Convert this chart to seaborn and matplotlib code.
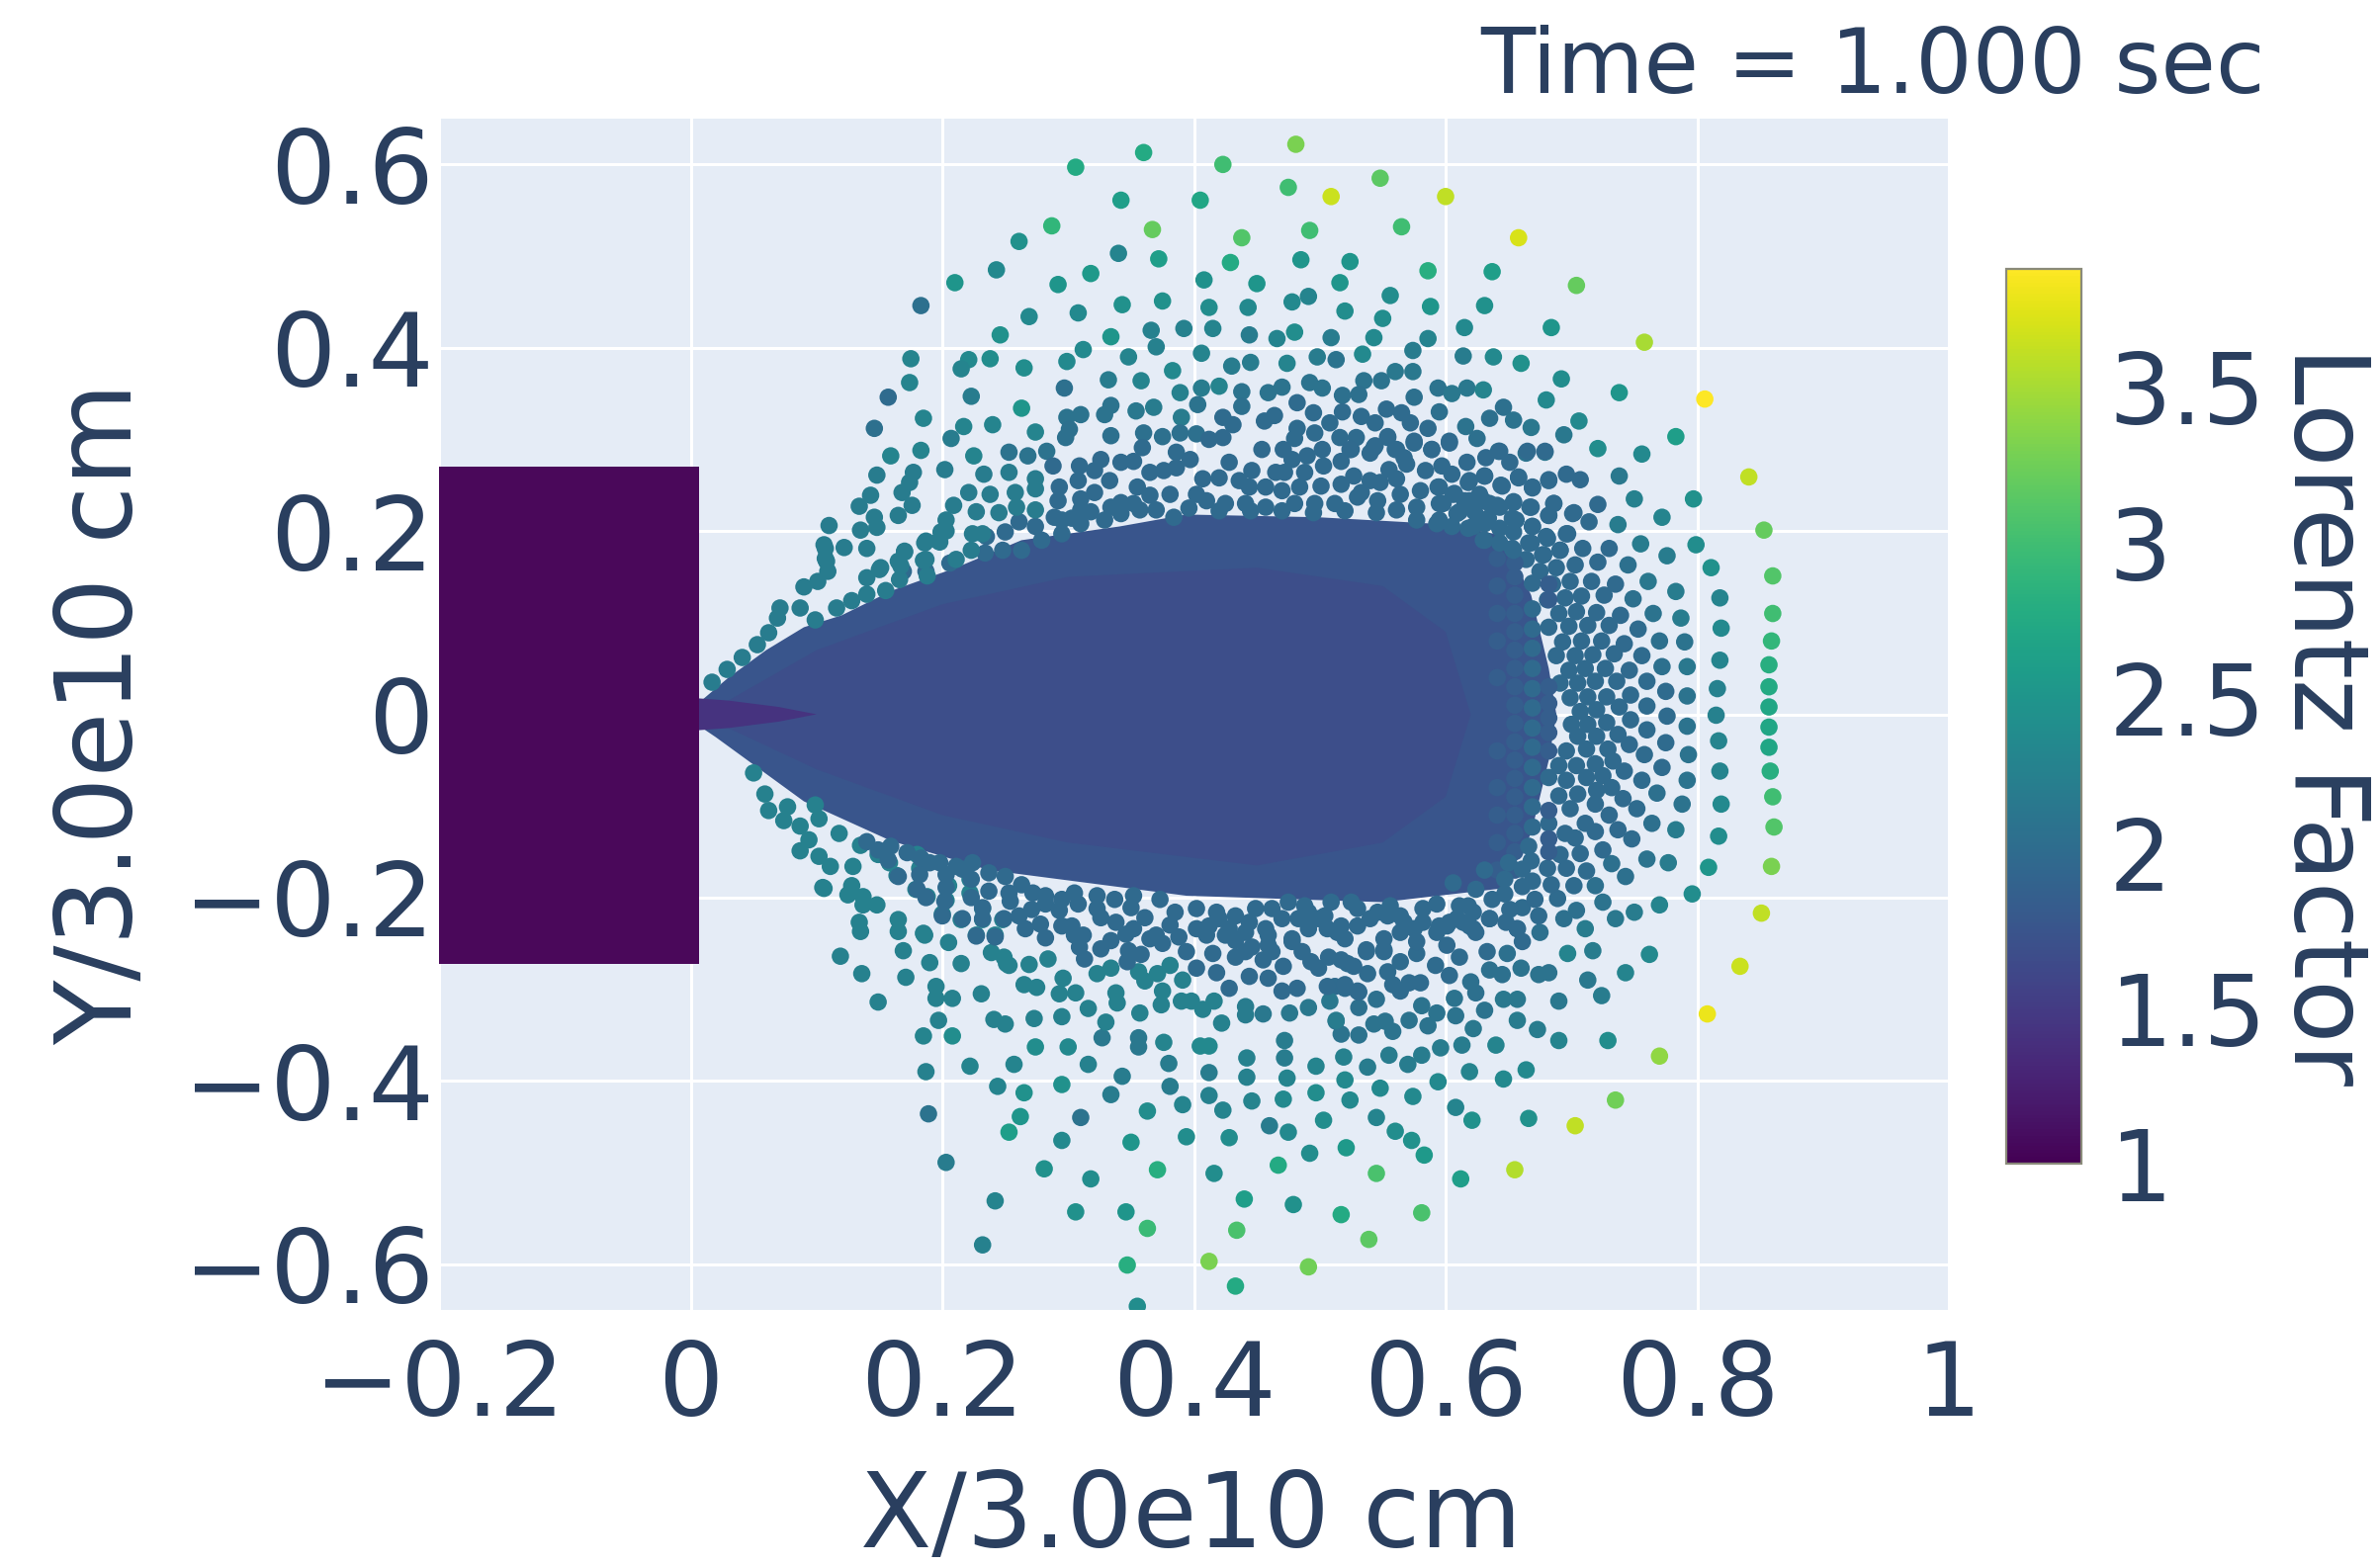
import numpy as np
import pandas as pd
import seaborn as sns
import matplotlib
matplotlib.use("Agg")
import matplotlib.pyplot as plt
from matplotlib.patches import Polygon, Rectangle
from matplotlib.cm import ScalarMappable
from matplotlib.colors import Normalize

# ---------- values (x, y, Lorentz factor) ----------
top_outer = [(.306,.597,2.75),(.360,.613,2.75),(.423,.600,3.0),(.481,.622,3.3),(.475,.575,3.0),(.509,.565,3.65),
(.342,.561,2.6),(.405,.561,2.7),(.287,.533,2.9),(.367,.529,3.2),(.438,.520,3.1),(.492,.528,3.0),(.261,.516,2.45),
(.340,.503,2.3),(.372,.497,2.6),(.429,.493,2.75),(.485,.496,2.5),(.243,.485,2.35),(.318,.481,2.55),(.210,.471,2.5),
(.292,.469,2.5),(.408,.474,2.45),(.450,.470,2.5),(.183,.446,2.05),(.343,.447,2.45),(.375,.451,2.45),(.412,.444,2.4),
(.443,.444,2.35),(.478,.450,2.35),(.491,.456,2.3),(.269,.434,2.35),(.308,.438,2.35),(.246,.414,2.45),(.334,.412,2.5),
(.366,.419,2.25),(.370,.401,2.25),(.392,.421,2.25),(.415,.421,2.3),(.444,.414,2.2),(.466,.410,2.3),(.480,.417,2.4),
(.509,.411,2.2),(.175,.388,2.3),(.221,.387,2.35),(.215,.377,2.3),(.238,.388,2.4),(.265,.378,2.4),(.299,.385,2.35),
(.312,.398,2.35),(.348,.390,2.3),(.406,.394,2.3),(.383,.375,2.35),(.430,.380,2.2),(.445,.384,2.2),(.474,.383,2.3),
(.498,.390,2.2),(.174,.362,2.3),(.157,.346,2.0),(.223,.347,2.2),(.297,.356,2.05),(.332,.365,2.2),(.358,.364,2.3),
(.389,.351,2.25),(.406,.356,2.2),(.420,.358,2.3),(.438,.352,2.1),(.459,.351,2.1),(.470,.357,2.1),(.492,.362,2.1),
(.502,.356,2.1),(.263,.334,2.5),(.185,.323,2.3),(.146,.312,2.05),(.217,.314,2.3),(.207,.301,2.2),(.240,.316,2.3),
(.274,.308,2.3),(.299,.324,2.1),(.310,.327,2.1),(.334,.337,2.1),(.329,.327,2.1),(.354,.331,2.15),(.368,.335,2.2),
(.403,.338,2.1),(.390,.324,2.2),(.438,.336,2.05),(.423,.324,2.0),(.431,.316,2.0),(.456,.320,2.0),(.464,.326,2.0),
(.482,.340,2.0),(.495,.329,2.0),(.508,.318,2.0),(.301,.311,2.05),(.298,.302,2.05),(.334,.304,2.05),(.360,.307,2.05),
(.375,.303,2.05),(.389,.307,2.05),(.402,.306,2.05),(.482,.312,2.0),(.480,.301,2.0),(.496,.307,2.0),(.159,.282,2.3),
(.183,.288,2.3),(.225,.282,2.3),(.253,.286,2.1),(.268,.282,2.1),(.283,.287,2.1),(.359,.291,2.0),(.386,.286,2.0)]

top_right = [(.548,.585,3.15),(.600,.565,3.6),(.565,.532,3.0),(.658,.520,3.7),(.524,.494,2.5),(.586,.484,2.8),
(.637,.483,2.6),(.704,.468,3.2),(.516,.471,2.5),(.556,.457,2.4),(.588,.445,2.5),(.631,.446,2.45),(.520,.440,2.4),
(.550,.432,2.4),(.615,.422,2.35),(.684,.422,2.5),(.543,.411,2.35),(.586,.410,2.3),(.758,.406,3.5),(.534,.393,2.35),
(.574,.397,2.2),(.614,.391,2.2),(.638,.390,2.35),(.660,.383,2.45),(.513,.387,2.1),(.560,.374,2.15),(.574,.374,2.15),
(.692,.366,2.4),(.535,.364,2.1),(.549,.364,2.1),(.594,.356,2.1),(.605,.350,2.15),(.617,.356,2.15),(.630,.354,2.3),
(.738,.351,2.5),(.806,.344,3.88),(.680,.343,2.35),(.518,.348,2.05),(.531,.349,2.05),(.575,.346,2.05),(.518,.330,2.0),
(.533,.325,2.0),(.553,.333,2.0),(.565,.329,2.0),(.544,.318,2.0),(.572,.318,2.0),(.595,.330,2.05),(.646,.335,2.05),
(.635,.323,2.05),(.654,.321,2.1),(.586,.312,2.0),(.616,.314,2.1),(.668,.313,2.15),(.706,.320,2.35),(.694,.305,2.15),
(.516,.302,2.0),(.529,.302,2.0),(.554,.302,2.0),(.575,.296,2.0),(.625,.301,2.05),(.603,.298,2.0),(.783,.303,2.6),
(.721,.290,2.4),(.756,.284,2.35),(.664,.285,2.1),(.679,.286,2.15),(.642,.287,2.05),(.589,.289,2.0),(.560,.289,2.0),
(.525,.289,2.0),(.543,.291,2.0)]

right_shell = [(.841,.259,3.6),(.853,.201,3.2),(.860,.151,3.1),(.860,.110,3.0),(.859,.080,2.9),(.857,.054,2.8),
(.857,.030,2.75),(.857,.008,2.7),(.857,-.014,2.7),(.857,-.036,2.7),(.858,-.062,2.8),(.860,-.090,3.0),(.861,-.123,3.1),
(.859,-.166,3.3),(.851,-.217,3.6),(.797,.235,2.45),(.799,.185,2.4),(.811,.160,2.45),(.818,.127,2.3),(.819,.094,2.35),
(.818,.059,2.3),(.816,.028,2.25),(.815,-.001,2.25),(.817,-.029,2.3),(.818,-.062,2.3),(.819,-.098,2.35),(.817,-.133,2.4),
(.809,-.167,2.5),(.796,-.196,2.4)]

right_third = [(.738,.260,2.15),(.750,.235,2.25),(.772,.215,2.3),(.737,.207,2.2),(.755,.186,2.2),(.776,.173,2.2),
(.745,.163,2.05),(.761,.145,2.15),(.783,.134,2.2),(.749,.126,2.05),(.765,.110,2.1),(.787,.105,2.2),(.753,.093,2.0),
(.770,.080,2.05),(.790,.079,2.1),(.756,.064,2.0),(.772,.052,2.05),(.792,.052,2.15),(.760,.036,2.0),(.775,.025,2.0),
(.792,.020,2.1),(.760,.009,2.0),(.776,-.002,2.0),(.792,-.013,2.1),(.760,-.017,2.0),(.775,-.031,2.0),(.793,-.044,2.1),
(.758,-.044,2.0),(.772,-.058,2.0),(.792,-.072,2.1),(.756,-.072,2.0),(.768,-.086,2.05),(.788,-.098,2.1),(.752,-.103,2.0),
(.764,-.119,2.05),(.783,-.126,2.2),(.748,-.136,2.0),(.760,-.158,2.1),(.777,-.162,2.2),(.743,-.177,2.05),(.770,-.208,2.3),
(.750,-.216,2.2),(.735,-.223,2.15),(.725,-.205,2.1),(.719,-.187,2.05),(.732,-.163,2.05),(.712,-.171,2.0),(.702,-.187,2.0),
(.689,-.201,2.0),(.704,-.214,2.05),(.694,-.223,2.05),(.711,-.234,2.2),(.675,-.238,2.05),(.674,-.220,2.0),(.661,-.211,2.0)]

lattice_x = [.721,.702,.714,.686,.682,.696,.707,.682,.669,.658,.644,.631,.618,.651,.632,.643,.617,.665,.679,.696,.669,.654,
.668,.641,.630,.653,.681,.709,.730,.691,.668,.653,.664,.678,.703,.721,.688,.675,.716,.699,.735,.685,.708,.726,.695,.681,
.720,.739,.704,.690,.730,.713,.698,.682,.742,.724,.708,.693,.734,.717,.703,.688,.746,.727,.711,.698,.736,.719,.705,.691,
.747,.728,.713,.699,.738,.720,.707,.747,.728,.713,.700,.737,.720,.705,.746,.729,.712,.696,.742,.733,.719,.704,.690,.725,
.741,.732,.712,.696,.682,.720,.705,.690,.730,.719,.737,.711,.699,.719,.703,.725,.707,.691,.695,.682,.681,.696,.668,.684,
.669,.671,.651,.647,.669,.669,.669,.669,.669,.669,.669,.669,.669,.669,.669,.669,.669]
lattice_y = [.229,.220,.210,.230,.217,.262,.256,.256,.247,.259,.250,.260,.253,.275,.280,.287,.275,.287,.287,.197,.205,.232,
.226,.228,.233,.214,.192,.181,.181,.179,.187,.181,.169,.174,.163,.166,.160,.156,.145,.145,.142,.142,.129,.130,.127,.125,
.111,.108,.112,.110,.097,.097,.096,.095,.077,.080,.080,.079,.066,.065,.064,.064,.048,.050,.050,.048,.036,.036,.034,.034,
.021,.019,.019,.018,.008,.005,.003,-.006,-.009,-.011,-.011,-.022,-.024,-.024,-.033,-.038,-.038,-.040,-.062,-.051,-.054,-.056,-.056,-.067,
-.092,-.080,-.069,-.072,-.069,-.083,-.087,-.089,-.110,-.098,-.126,-.119,-.103,-.128,-.135,-.148,-.152,-.153,-.130,-.119,-.168,-.168,-.160,-.186,
-.182,-.202,-.213,-.196,.143,.115,.093,.072,.050,.028,.007,-.015,-.036,-.058,-.080,-.101,-.123]
lattice_lorentz = 1.98

core_edge_x = [.655,.655,.655,.655,.655,.655,.655,.655,.655,.655,.655,.655,.655,.655,.655,.655,.655,.655,
.641,.641,.641,.641,.641,.641,.641,.641,.641,.641,.682,.682,.682,.682,.682,.682,.682,.682,.682,.682]
core_edge_y = [.165,.15,.13,.11,.09,.07,.05,.03,.01,-.01,-.03,-.05,-.07,-.09,-.11,-.13,-.15,-.17,
.17,.14,.11,.08,.04,-.04,-.08,-.11,-.14,-.17,.142,.03,.012,-.004,-.02,-.04,-.105,-.15,-.136,.125]
core_edge_lorentz = 1.85

upper_band = [(.446,.266),(.465,.264),(.472,.264),(.488,.264),(.503,.271),(.527,.260),(.517,.276),(.555,.267),(.569,.273),
(.584,.266),(.540,.255),(.567,.280),(.402,.240),(.420,.258),(.407,.257),(.436,.255),(.457,.248),(.444,.248),(.470,.244),
(.484,.248),(.501,.249),(.517,.251),(.533,.242),(.548,.253),(.561,.257),(.580,.244),(.564,.240),(.595,.248),(.410,.233),
(.425,.230),(.441,.230),(.457,.226),(.480,.230),(.496,.230),(.512,.230),(.530,.237),(.546,.233),(.561,.223),(.577,.226),
(.288,.271),(.308,.255),(.321,.242),(.310,.235),(.333,.255),(.309,.271),(.321,.266),(.326,.278),(.342,.275),(.352,.276),
(.365,.264),(.376,.266),(.386,.269),(.355,.248),(.342,.231),(.334,.226),(.365,.239),(.381,.240),(.293,.248),(.292,.233),
(.274,.205),(.289,.215),(.303,.214),(.318,.221),(.250,.199),(.261,.210),(.397,.278),(.412,.300),(.423,.302),(.428,.275),
(.454,.289),(.471,.289),(.478,.278),(.490,.282),(.502,.289),(.524,.289),(.540,.285),(.544,.293),(.554,.303),(.561,.289),
(.575,.298),(.589,.289),(.603,.296),(.606,.240),(.615,.233),(.623,.221),(.631,.208),(.643,.226),(.627,.240),(.635,.230),
(.654,.231),(.667,.226),(.682,.217),(.686,.230),(.669,.205),(.656,.212),(.643,.203),(.631,.190),(.643,.187),(.654,.179),
(.666,.187),(.677,.174),(.691,.179),(.680,.194),(.697,.197),(.701,.219),(.619,.255),(.631,.260),(.645,.249),(.658,.258),
(.669,.248),(.682,.255),(.595,.230),(.609,.219),(.622,.205),(.577,.212),(.593,.208),(.597,.271),(.605,.262),(.594,.248),
(.607,.241),(.619,.233),(.598,.230),(.611,.221),(.634,.214),(.654,.199),(.630,.190),(.618,.203),(.605,.205),(.595,.212),
(.235,.194),(.263,.179),(.206,.165),(.234,.176),(.187,.156),(.169,.156),(.248,.179),(.279,.190),(.295,.197),(.310,.208),
(.329,.212),(.342,.219),(.357,.223),(.370,.223),(.384,.215),(.352,.230),(.295,.212),(.310,.223),(.396,.225),(.420,.222),
(.445,.222),(.470,.222),(.495,.220),(.520,.222),(.545,.220)]
upper_band_lorentz = 1.98

upper_arm = [(.110,.206),(.106,.185),(.122,.182),(.140,.181),(.108,.167),(.151,.160),(.170,.178),(.165,.167),(.186,.187),
(.187,.169),(.148,.261),(.143,.239),(.134,.227),(.146,.215),(.148,.204),(.135,.201),(.168,.242),(.176,.228),(.165,.217),
(.177,.264),(.174,.253),(.202,.267),(.209,.228),(.203,.212),(.199,.199),(.198,.188),(.221,.242),(.238,.240),(.227,.221),
(.245,.220),(.258,.242),(.259,.226),(.274,.223),(.233,.262),(.253,.264),(.274,.257),(.274,.246),(.232,.197),(.224,.197),
(.223,.179),(.211,.169),(.107,.181),(.107,.170),(.109,.156),(.101,.145),(.090,.139),(.087,.116),(.071,.116),(.069,.105),
(.062,.089),(.053,.076),(.041,.062),(.029,.049),(.017,.035),(.140,.149),(.150,.158),(.170,.177),(.167,.162),(.166,.147),
(.187,.189),(.185,.168),(.188,.151),(.203,.200),(.197,.189),(.099,.103),(.116,.116),(.128,.124),(.140,.131),(.155,.135)]
upper_arm_lorentz = 2.2

lower_arm = [(.050,-.064),(.059,-.087),(.062,-.105),(.077,-.101),(.074,-.116),(.087,-.122),(.102,-.114),(.099,-.099),(.094,-.137),
(.087,-.149),(.102,-.155),(.111,-.166),(.129,-.166),(.105,-.189),(.128,-.187),(.125,-.197),(.137,-.199),(.137,-.208),(.148,-.208),
(.134,-.227),(.135,-.237),(.165,-.224),(.165,-.237),(.119,-.264),(.136,-.283),(.169,-.258),(.171,-.287),(.118,-.130),(.135,-.143),
(.149,-.153),(.164,-.176),(.158,-.162),(.182,-.168),(.180,-.153),(.179,-.191),(.188,-.199),(.203,-.203),(.205,-.187),(.222,-.180),
(.222,-.195),(.200,-.218),(.215,-.224),(.232,-.212),(.232,-.224),(.185,-.239),(.205,-.249),(.227,-.241),(.242,-.241),(.248,-.224),
(.190,-.271),(.215,-.272),(.195,-.297),(.195,-.310),(.208,-.310),(.239,-.260),(.251,-.272),(.106,-.190),(.149,-.314),(.186,-.241),
(.231,-.305),(.197,-.334),(.241,-.333),(.250,-.338),(.273,-.332),(.295,-.330),(.330,-.336),(.357,-.326),(.316,-.321),(.293,-.305),
(.306,-.304),(.338,-.304),(.339,-.315),(.375,-.302),(.374,-.317),(.390,-.313),(.265,-.295),(.275,-.298),(.296,-.288),(.269,-.273),
(.284,-.267),(.253,-.274),(.249,-.265),(.323,-.283),(.334,-.277),(.356,-.281),(.361,-.291),(.371,-.283),(.381,-.274),(.391,-.290)]
lower_arm_lorentz = 2.25

lower_inner = [(.347,-.270),(.358,-.262),(.348,-.258),(.313,-.267),(.309,-.254),(.326,-.256),(.334,-.247),(.305,-.241),(.312,-.241),
(.346,-.240),(.352,-.234),(.365,-.245),(.375,-.250),(.388,-.243),(.227,-.242),(.242,-.243),(.282,-.244),(.278,-.229),(.266,-.234),
(.249,-.223),(.261,-.220),(.232,-.211),(.232,-.223),(.200,-.220),(.216,-.223),(.203,-.189),(.202,-.204),(.223,-.180),(.223,-.200),
(.180,-.191),(.187,-.200),(.182,-.175),(.165,-.177),(.157,-.159),(.149,-.148),(.140,-.139),(.237,-.193),(.253,-.195),(.254,-.204),
(.271,-.213),(.282,-.207),(.293,-.214),(.303,-.231),(.295,-.231),(.326,-.222),(.338,-.227),(.415,-.261),(.433,-.265),(.441,-.259),
(.446,-.254),(.455,-.268),(.462,-.259),(.402,-.277),(.499,-.277),(.493,-.270),(.486,-.259),(.478,-.248),(.507,-.265),(.410,-.241),
(.433,-.247),(.402,-.234),(.420,-.223),(.459,-.252),(.459,-.241),(.478,-.245),(.491,-.234),(.499,-.223),(.506,-.234),(.520,-.245),
(.530,-.231),(.540,-.223),(.554,-.220),(.564,-.220),(.564,-.238),(.575,-.234),(.582,-.227),(.593,-.238),(.603,-.227),(.614,-.227),
(.577,-.248),(.601,-.252),(.551,-.245),(.514,-.238),(.441,-.238),(.425,-.241),(.394,-.259),(.619,-.231),(.635,-.223),(.648,-.227),
(.657,-.234),(.661,-.248),(.624,-.238),(.418,-.282),(.471,-.275),(.444,-.286),(.459,-.288),(.428,-.299),(.470,-.302),(.482,-.299),
(.517,-.268),(.527,-.275),(.537,-.257),(.551,-.257),(.506,-.297),(.520,-.295),(.530,-.302),(.412,-.231),(.428,-.234),(.444,-.227),
(.457,-.234),(.470,-.223),(.483,-.223),(.491,-.216),(.504,-.220),(.517,-.231),(.530,-.212),(.546,-.216),(.556,-.209),(.567,-.227),
(.582,-.212),(.595,-.231),(.609,-.223),(.622,-.216),(.402,-.212),(.418,-.216),(.433,-.220),(.449,-.212),(.462,-.212),(.475,-.205),
(.488,-.209),(.509,-.205),(.525,-.205),(.237,-.173),(.250,-.177),(.263,-.186),(.272,-.195),(.282,-.198),(.295,-.202),(.308,-.207),
(.323,-.212),(.337,-.202),(.350,-.211),(.361,-.222),(.370,-.241),(.381,-.230),(.385,-.216),(.305,-.195),(.323,-.198),(.352,-.198),
(.373,-.202),(.198,-.162),(.211,-.166),(.224,-.162),(.183,-.157),(.172,-.151),(.159,-.144),(.216,-.169),(.203,-.175),(.190,-.162),
(.631,-.170),(.647,-.180),(.661,-.188),(.624,-.191),(.606,-.184),(.618,-.209),(.635,-.223),(.657,-.234),(.622,-.234),(.601,-.231),
(.611,-.209),(.637,-.202),(.593,-.207),(.661,-.169),(.650,-.162),(.666,-.144)]
lower_inner_lorentz = 1.98

bottom_right = [(.834,-.275,3.65),(.808,-.327,3.8),(.770,-.373,3.4),(.735,-.421,3.25),(.703,-.449,3.6),(.655,-.497,3.55),
(.581,-.544,3.05),(.539,-.573,3.15),(.545,-.501,3.05),(.612,-.507,2.6),(.517,-.546,2.75),(.521,-.473,2.55),(.583,-.481,2.55),
(.573,-.465,2.45),(.560,-.455,2.4),(.545,-.440,2.3),(.621,-.443,2.45),(.608,-.429,2.3),(.666,-.441,2.45),(.524,-.421,2.35),
(.574,-.417,2.35),(.548,-.408,2.35),(.520,-.399,2.35),(.594,-.401,2.35),(.646,-.398,2.35),(.664,-.388,2.35),(.619,-.390,2.3),
(.640,-.361,2.3),(.729,-.356,2.4),(.690,-.356,2.3),(.673,-.344,2.2),(.657,-.334,2.2),(.613,-.361,2.2),(.596,-.364,2.2),
(.581,-.372,2.2),(.570,-.382,2.2),(.555,-.372,2.2),(.538,-.385,2.2),(.519,-.374,2.25),(.622,-.343,2.15),(.586,-.340,2.1),
(.571,-.334,2.1),(.558,-.346,2.1),(.552,-.335,2.1),(.543,-.338,2.1),(.531,-.350,2.1),(.517,-.349,2.1),(.513,-.335,2.1),
(.608,-.329,2.1),(.593,-.326,2.1),(.581,-.318,2.1),(.631,-.323,2.1),(.607,-.310,2.1),(.624,-.304,2.05),(.620,-.292,2.05),
(.646,-.311,2.15),(.657,-.311,2.15),(.690,-.313,2.15),(.545,-.311,2.05),(.531,-.320,2.05),(.724,-.307,2.2),(.713,-.290,2.15),
(.743,-.282,2.3),(.762,-.262,2.35),(.697,-.261,2.3),(.717,-.258,2.2),(.682,-.282,2.1),(.674,-.284,2.1),(.660,-.277,2.1),
(.645,-.284,2.05),(.635,-.279,2.05),(.603,-.285,2.0),(.592,-.274,2.0),(.580,-.293,2.0),(.571,-.293,2.0),(.564,-.302,2.0),
(.558,-.295,2.0),(.538,-.283,2.0),(.554,-.281,2.0),(.564,-.270,2.0),(.577,-.261,2.0),(.520,-.299,2.0),(.531,-.303,2.0),
(.512,-.297,2.0),(.611,-.265,2.0),(.633,-.259,2.0),(.649,-.261,2.05),(.537,-.259,2.0),(.551,-.259,2.0),(.522,-.272,2.0)]

bottom_left = [(.185,-.351,2.3),(.208,-.351,2.4),(.187,-.390,2.25),(.222,-.384,2.3),(.257,-.382,2.3),(.274,-.363,2.4),(.300,-.363,2.35),
(.327,-.353,2.15),(.356,-.353,2.15),(.356,-.363,2.15),(.376,-.358,2.3),(.405,-.362,2.35),(.412,-.362,2.35),(.316,-.382,2.25),
(.343,-.395,2.2),(.380,-.381,2.2),(.412,-.391,2.2),(.442,-.375,2.25),(.472,-.356,2.2),(.472,-.375,2.2),(.497,-.384,2.3),(.244,-.406,2.3),
(.265,-.413,2.45),(.295,-.404,2.45),(.334,-.415,2.2),(.381,-.406,2.2),(.412,-.416,2.25),(.442,-.396,2.25),(.474,-.397,2.3),(.497,-.413,2.4),
(.189,-.436,2.1),(.262,-.439,2.5),(.310,-.440,2.1),(.363,-.433,2.4),(.391,-.426,2.3),(.423,-.432,2.3),(.446,-.422,2.3),(.471,-.420,2.35),
(.253,-.456,2.6),(.295,-.465,2.35),(.350,-.467,2.5),(.394,-.461,2.4),(.428,-.462,2.4),(.460,-.449,2.2),(.475,-.456,2.35),(.503,-.443,2.4),
(.492,-.479,2.4),(.203,-.489,2.2),(.281,-.496,2.45),(.371,-.497,2.8),(.416,-.501,2.4),(.467,-.492,2.75),(.318,-.507,2.4),(.242,-.531,2.3),
(.306,-.543,2.45),(.346,-.543,2.5),(.440,-.529,2.6),(.479,-.535,2.45),(.363,-.561,2.95),(.434,-.563,3.05),(.232,-.579,2.25),(.347,-.601,2.8),
(.412,-.597,3.3),(.491,-.603,3.25),(.433,-.624,2.75),(.355,-.646,2.4),(.491,-.320,2.15),(.476,-.326,2.15),(.455,-.327,2.15),(.441,-.319,2.2),
(.441,-.328,2.2),(.422,-.337,2.25),(.416,-.313,2.25),(.407,-.322,2.25),(.398,-.313,2.25),(.508,-.313,2.15),(.513,-.334,2.2)]

# Densely overlapped core outlines: (x, y) boundary, and Lorentz factor of each
core_outer_x = [.006,.03,.06,.09,.12,.16,.211,.263,.341,.394,.499,.604,.645,.668,.682,.688,.682,.668,.645,.55,.394,.237,.159,.09,.05,.02,.006]
core_outer_y = [.012,.04,.07,.095,.108,.135,.16,.19,.205,.218,.215,.207,.195,.13,.05,0,-.05,-.13,-.19,-.205,-.198,-.17,-.138,-.095,-.055,-.025,-.012]
core_outer_lorentz = 1.76
core_inner_x = [.03,.1,.2,.3,.45,.55,.6,.62,.6,.55,.45,.3,.2,.1,.03]
core_inner_y = [.015,.07,.12,.15,.16,.14,.09,0,-.09,-.14,-.165,-.14,-.11,-.06,-.015]
core_inner_lorentz = 1.68
tip_x = [0,.03,.07,.1,.07,.03,0]
tip_y = [.018,.015,.008,0,-.008,-.015,-.018]
tip_lorentz = 1.42
rest_x = [-.2,.0063]
rest_y = [-.272,.27]
rest_lorentz = 1.0

# Axis content
x_ticks = [-.2,0,.2,.4,.6,.8,1]
x_labels = ["\u22120.2","0","0.2","0.4","0.6","0.8","1"]
y_ticks = [-.6,-.4,-.2,0,.2,.4,.6]
y_labels = ["\u22120.6","\u22120.4","\u22120.2","0","0.2","0.4","0.6"]
cbar_ticks = [1,1.5,2,2.5,3,3.5]
cbar_labels = ["1","1.5","2","2.5","3","3.5"]
c_min, c_max = 1.0, 3.88
x_lim = (-.2,1.0)
y_lim = (-.65,.65)

rows = top_outer + top_right + right_shell + right_third + bottom_right + bottom_left
rows += [(a,b,lattice_lorentz) for a,b in zip(lattice_x,lattice_y)]
rows += [(a,b,core_edge_lorentz) for a,b in zip(core_edge_x,core_edge_y)]
rows += [(a,b,upper_band_lorentz) for a,b in upper_band]
rows += [(a,b,upper_arm_lorentz) for a,b in upper_arm]
rows += [(a,b,lower_arm_lorentz) for a,b in lower_arm]
rows += [(a,b,lower_inner_lorentz) for a,b in lower_inner]
df = pd.DataFrame(rows, columns=["x","y","lorentz"])

TEXT = "#2a3f5f"
W, H = 2407, 1584
sns.set_theme(style="white")
plt.rcParams["font.family"] = ["DejaVu Sans"]
fig = plt.figure(figsize=(W/100,H/100), dpi=100, facecolor="white")
ax = fig.add_axes([444/W, 1-1325/H, (1971-444)/W, (1325-120)/H])
ax.set_facecolor("#e5ecf6")
norm = Normalize(c_min,c_max)
cmap = plt.get_cmap("viridis")

ax.set_axisbelow(True)
ax.grid(True,color="white",linewidth=2.2)
ax.add_patch(Polygon(np.column_stack([core_outer_x,core_outer_y]),closed=True,fc=cmap(norm(core_outer_lorentz)),ec="none",zorder=2))
ax.add_patch(Polygon(np.column_stack([core_inner_x,core_inner_y]),closed=True,fc=cmap(norm(core_inner_lorentz)),ec="none",zorder=2.1))
sns.scatterplot(data=df,x="x",y="y",hue="lorentz",palette="viridis",hue_norm=(c_min,c_max),s=160,linewidth=0,legend=False,ax=ax,zorder=3,clip_on=True)
ax.add_patch(Polygon(np.column_stack([tip_x,tip_y]),closed=True,fc=cmap(norm(tip_lorentz)),ec="none",zorder=3.5))
ax.add_patch(Rectangle((rest_x[0],rest_y[0]),rest_x[1]-rest_x[0],rest_y[1]-rest_y[0],fc="#4a085a",ec="none",zorder=4))

ax.set_xlim(*x_lim); ax.set_ylim(*y_lim)
ax.set_xticks(x_ticks); ax.set_xticklabels(x_labels,fontsize=75,color=TEXT)
ax.set_yticks(y_ticks); ax.set_yticklabels(y_labels,fontsize=75,color=TEXT)
ax.tick_params(axis="x",length=0,pad=20)
ax.tick_params(axis="y",length=0,pad=4)
ax.set_xlabel(""); ax.set_ylabel("")
for s in ax.spines.values(): s.set_visible(False)

fig.text(1205/W,1-1536/H,"X/3.0e10 cm",fontsize=76,color=TEXT,ha="center",va="center")
fig.text(104/W,1-722/H,"Y/3.0e10 cm",fontsize=77,color=TEXT,ha="center",va="center",rotation=90)
fig.text(2291/W,1-69/H,"Time = 1.000 sec",fontsize=65,color=TEXT,ha="right",va="center")

cax = fig.add_axes([2029/W,1-1177/H,(2105-2029)/W,(1177-272)/H])
cb = fig.colorbar(ScalarMappable(norm=norm,cmap=cmap),cax=cax)
cb.set_ticks(cbar_ticks); cb.set_ticklabels(cbar_labels,fontsize=72,color=TEXT)
cb.ax.tick_params(length=0,pad=20)
cb.outline.set_edgecolor("#8a8a7a"); cb.outline.set_linewidth(1.6)
fig.text(2349/W,1-724/H,"Lorentz Factor",fontsize=76,color=TEXT,ha="center",va="center",rotation=-90)

fig.savefig("out.png",dpi=100,facecolor="white")
